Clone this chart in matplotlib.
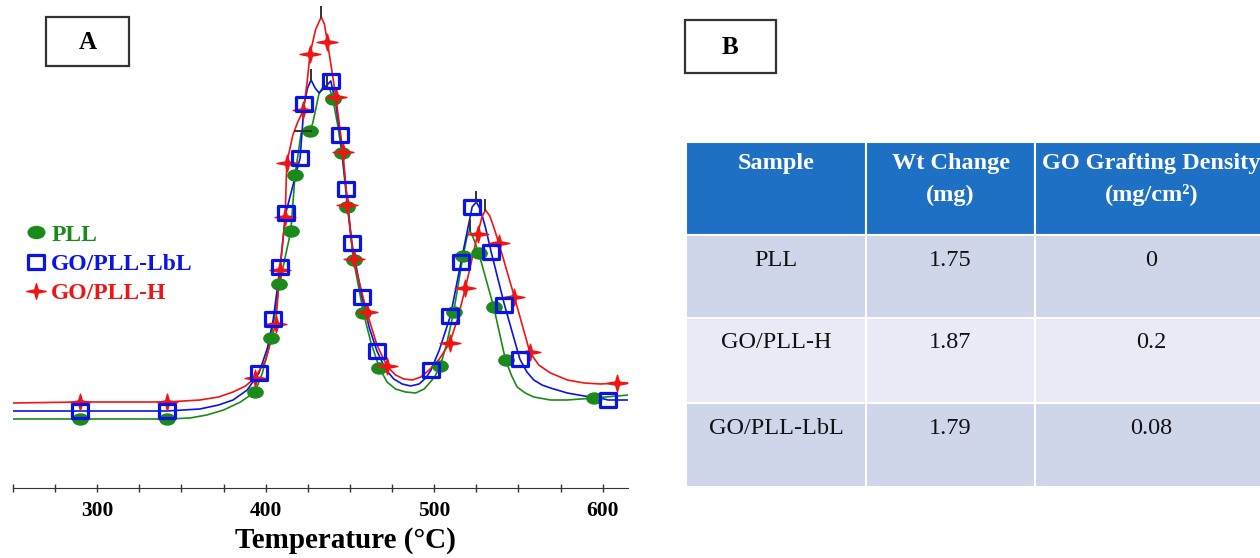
import matplotlib
matplotlib.use('Agg')
import matplotlib.pyplot as plt
from matplotlib.path import Path
from matplotlib.patches import Rectangle
from matplotlib.lines import Line2D
from matplotlib.ticker import MultipleLocator

# ---- panel A: derivative weight curves (temperature in C, signal in a.u.) ----
pll_T = [250, 290, 341.3, 355, 365, 375, 385, 393.6, 398, 403.2, 408.1, 414.9, 417.4, 421.0,
         426.3, 427.9, 429.8, 431.7, 434.0, 436.4, 438.2, 439.8, 442.5, 445.2, 448.5, 452.1,
         458.0, 462.5, 467.5, 472, 477, 483, 489, 494, 497.7, 500.5, 503.6, 507.5, 511.5,
         517.1, 519.3, 521.0, 523.2, 526.4, 535.3, 542.3, 546, 549.2, 554, 559.1, 569, 579,
         594.8, 615.4]
pll_v = [6.9, 6.9, 6.9, 7.0, 7.3, 7.8, 8.6, 9.6, 11.5, 15.0, 20.4, 25.7, 31.3, 35.5,
         35.7, 36.5, 38.0, 39.5, 40.1, 40.2, 39.8, 38.9, 36.5, 33.5, 28.1, 22.8,
         17.5, 14.5, 12.0, 10.6, 9.9, 9.6, 9.5, 9.9, 10.6, 11.2, 12.2, 14.5, 17.6,
         23.2, 25.0, 25.8, 25.0, 23.5, 18.1, 12.8, 11.2, 10.1, 9.5, 9.1, 8.8, 8.8,
         9.0, 9.3]

lbl_T = [250, 290, 341.3, 360.9, 372, 380.6, 389, 396.0, 401, 404.5, 408.5, 411.9, 420.4,
         422.8, 424.8, 426.9, 429.3, 431.7, 434.0, 436.4, 438.6, 441.5, 444.2, 447.7, 451.1,
         457.1, 461.5, 466.0, 471, 476, 481, 486, 491, 495, 498.1, 503, 509.6, 515.9,
         522.5, 525.0, 527.5, 530.5, 533.8, 541.7, 550.8, 555, 559.1, 564, 569, 579, 589,
         598.8, 603.1, 615.4]
lbl_v = [7.7, 7.7, 7.7, 7.9, 8.3, 8.8, 9.8, 11.5, 14.0, 16.9, 22.1, 27.5, 33.0,
         38.4, 40.0, 40.8, 40.0, 39.5, 39.9, 40.3, 40.7, 38.5, 35.3, 29.9, 24.5,
         19.1, 16.0, 13.7, 11.9, 10.9, 10.4, 10.2, 10.4, 11.0, 11.8, 13.8, 17.2, 22.6,
         28.1, 28.6, 27.8, 26.0, 23.6, 18.3, 12.9, 11.6, 10.8, 10.3, 10.0, 9.5, 9.2,
         9.0, 8.8, 8.8]

h_T = [250, 290, 341.3, 360.9, 372, 380.6, 388, 393.6, 400, 405.9, 408.5, 411.5, 412.5,
       416.1, 419.0, 422.4, 424.5, 426.3, 429.5, 432.9, 434.8, 436.6, 439.0, 441.6, 445.8,
       448.5, 452.1, 460.0, 466, 471.9, 477, 482, 487, 492, 497, 503, 509.2, 514, 518.5,
       525.8, 528.3, 530.4, 533, 535.5, 538.3, 547.6, 556.7, 562, 569, 579, 589, 598.8,
       608.7, 615.4]
h_v = [8.5, 8.6, 8.6, 8.8, 9.1, 9.6, 10.2, 11.0, 12.8, 16.4, 21.8, 27.1, 32.5,
       35.3, 36.6, 37.8, 40.5, 43.4, 45.8, 47.1, 46.4, 44.6, 42.0, 39.1, 33.6,
       28.3, 22.9, 17.6, 14.3, 12.2, 11.3, 10.9, 10.8, 11.1, 11.8, 12.9, 14.5, 17.0, 20.0,
       25.4, 27.1, 27.8, 27.2, 26.0, 24.5, 19.1, 13.6, 12.3, 11.5, 10.8, 10.5, 10.4,
       10.5, 10.5]

# symbol positions along each curve
pll_mT = [290, 341.3, 393.6, 403.2, 408.1, 414.9, 417.4, 426.3, 439.8, 445.2, 448.5, 452.1,
          458.0, 467.5, 503.6, 511.5, 517.1, 526.4, 535.3, 542.3, 594.8]
pll_mv = [6.9, 6.9, 9.6, 15.0, 20.4, 25.7, 31.3, 35.7, 38.9, 33.5, 28.1, 22.8,
          17.5, 12.0, 12.2, 17.6, 23.2, 23.5, 18.1, 12.8, 9.0]
lbl_mT = [290, 341.3, 396.0, 404.5, 408.5, 411.9, 420.4, 422.8, 438.6, 444.2, 447.7, 451.1,
          457.1, 466.0, 498.1, 509.6, 515.9, 522.5, 533.8, 541.7, 550.8, 603.1]
lbl_mv = [7.7, 7.7, 11.5, 16.9, 22.1, 27.5, 33.0, 38.4, 40.7, 35.3, 29.9, 24.5,
          19.1, 13.7, 11.8, 17.2, 22.6, 28.1, 23.6, 18.3, 12.9, 8.8]
h_mT = [290, 341.3, 393.6, 405.9, 408.5, 411.5, 412.5, 422.4, 426.3, 436.6, 441.6, 445.8,
        448.5, 452.1, 460.0, 471.9, 509.2, 518.5, 525.8, 538.3, 547.6, 556.7, 608.7]
h_mv = [8.6, 8.6, 11.0, 16.4, 21.8, 27.1, 32.5, 37.8, 43.4, 44.6, 39.1, 33.6,
        28.3, 22.9, 17.6, 12.2, 14.5, 20.0, 25.4, 24.5, 19.1, 13.6, 10.5]

# small black peak marks
peak_T = [432.9, 426.9, 436.4, 525.0, 521.0, 530.4]
peak_v = [47.6, 41.3, 40.7, 29.1, 26.3, 28.3]
shoulder_T = [422.2]
shoulder_v = [35.7]

series_names = ['PLL', 'GO/PLL-LbL', 'GO/PLL-H']
series_colors = ['#1a8a1a', '#0a14e6', '#f01414']

# ---- panel B: table ----
col_headers = [['Sample'], ['Wt Change', '(mg)'], ['GO Grafting Density', '(mg/cm²)']]
samples = ['PLL', 'GO/PLL-H', 'GO/PLL-LbL']
wt_change = ['1.75', '1.87', '1.79']
grafting = ['0', '0.2', '0.08']

serif = 'Liberation Serif'

# custom symbols
circ = Path.unit_circle()
ellipse = Path(circ.vertices * [1.0, 0.72], circ.codes)
rect = Path([(-1, -0.78), (1, -0.78), (1, 0.78), (-1, 0.78), (-1, -0.78)],
            [Path.MOVETO, Path.LINETO, Path.LINETO, Path.LINETO, Path.CLOSEPOLY])
star4 = Path([(1, 0), (0.18, 0.16), (0, 0.8), (-0.18, 0.16), (-1, 0), (-0.18, -0.16),
              (0, -0.8), (0.18, -0.16), (1, 0)],
             [Path.MOVETO] + [Path.LINETO] * 7 + [Path.CLOSEPOLY])

fig = plt.figure(figsize=(12.6, 5.58), dpi=100)

ax = fig.add_axes([13 / 1260, 70 / 558, 615 / 1260, 488 / 558])
ax.plot(pll_T, pll_v, color=series_colors[0], lw=1.2)
ax.plot(lbl_T, lbl_v, color=series_colors[1], lw=1.2)
ax.plot(h_T, h_v, color=series_colors[2], lw=1.2)
ax.plot(pll_mT, pll_mv, ls='none', marker=ellipse, ms=11, color=series_colors[0])
ax.plot(h_mT, h_mv, ls='none', marker=star4, ms=15, color=series_colors[2])
ax.plot(lbl_mT, lbl_mv, ls='none', marker=rect, ms=12, mfc='none', mew=2.3,
        color=series_colors[1])
ax.plot(peak_T, peak_v, ls='none', marker='|', ms=9, mew=1.4, color='#333333')
ax.plot(shoulder_T, shoulder_v, ls='none', marker='_', ms=13, mew=1.4, color='#333333')

ax.set_xlim(250, 615)
ax.set_ylim(0, 48.8)
for s in ['left', 'right', 'top']:
    ax.spines[s].set_visible(False)
ax.spines['bottom'].set_color('#333333')
ax.set_yticks([])
ax.xaxis.set_major_locator(MultipleLocator(100))
ax.xaxis.set_minor_locator(MultipleLocator(25))
ax.tick_params(axis='x', which='both', direction='inout', length=6, width=1,
               color='#333333', pad=6)
for lab in ax.get_xticklabels():
    lab.set_fontfamily(serif)
    lab.set_fontweight('bold')
    lab.set_fontsize(15.5)
ax.set_xlabel('Temperature (°C)', fontfamily=serif, fontweight='bold', fontsize=21,
              va='center')
ax.xaxis.set_label_coords((345 - 13) / 615, -(541 - 488) / 488)

handles = [
    Line2D([], [], ls='none', marker=ellipse, ms=12, color=series_colors[0]),
    Line2D([], [], ls='none', marker=rect, ms=12, mfc='none', mew=2.3, color=series_colors[1]),
    Line2D([], [], ls='none', marker=star4, ms=14, color=series_colors[2]),
]
ax.legend(handles, series_names, loc='upper left', bbox_to_anchor=(24 / 1260, 1 - 224 / 558),
          bbox_transform=fig.transFigure, frameon=False, handlelength=1.0,
          handletextpad=0.15, labelspacing=0.33, borderpad=0, borderaxespad=0,
          labelcolor=series_colors, prop={'family': serif, 'weight': 'bold', 'size': 17})

# overlay in pixel coordinates for the panel boxes and the table
ov = fig.add_axes([0, 0, 1, 1], facecolor='none')
ov.set_xlim(0, 1260)
ov.set_ylim(558, 0)
ov.axis('off')

for (x0, y0, x1, y1, letter) in [(46, 17, 129, 66, 'A'), (685, 20, 776, 73, 'B')]:
    ov.add_patch(Rectangle((x0, y0), x1 - x0, y1 - y0, fill=False, ec='#333333', lw=1.6))
    ov.text((x0 + x1) / 2, (y0 + y1) / 2 + 1, letter, ha='center', va='center',
            fontfamily=serif, fontweight='bold', fontsize=18)

col_edges = [686, 866, 1035, 1268]
row_edges = [142, 235, 318, 403, 487]
row_colors = ['#cfd6ea', '#e8ebf5', '#cfd6ea']
header_color = '#1e70c4'

for c in range(3):
    x0, x1 = col_edges[c], col_edges[c + 1]
    ov.add_patch(Rectangle((x0, row_edges[0]), x1 - x0, row_edges[1] - row_edges[0],
                           fc=header_color, ec='white', lw=1.5))
    xc = (x0 + x1) / 2
    for i, line in enumerate(col_headers[c]):
        ov.text(xc, 164 + 31 * i, line, ha='center', va='center', color='white',
                fontfamily=serif, fontweight='bold', fontsize=17.5)
    for r in range(3):
        ov.add_patch(Rectangle((x0, row_edges[r + 1]), x1 - x0,
                               row_edges[r + 2] - row_edges[r + 1],
                               fc=row_colors[r], ec='white', lw=1.5))

body = [samples, wt_change, grafting]
for c in range(3):
    xc = (col_edges[c] + col_edges[c + 1]) / 2
    for r in range(3):
        ov.text(xc, row_edges[r + 1] + 25, body[c][r], ha='center', va='center',
                color='#111111', fontfamily=serif, fontsize=17.5)

plt.savefig('out.png', dpi=100)
